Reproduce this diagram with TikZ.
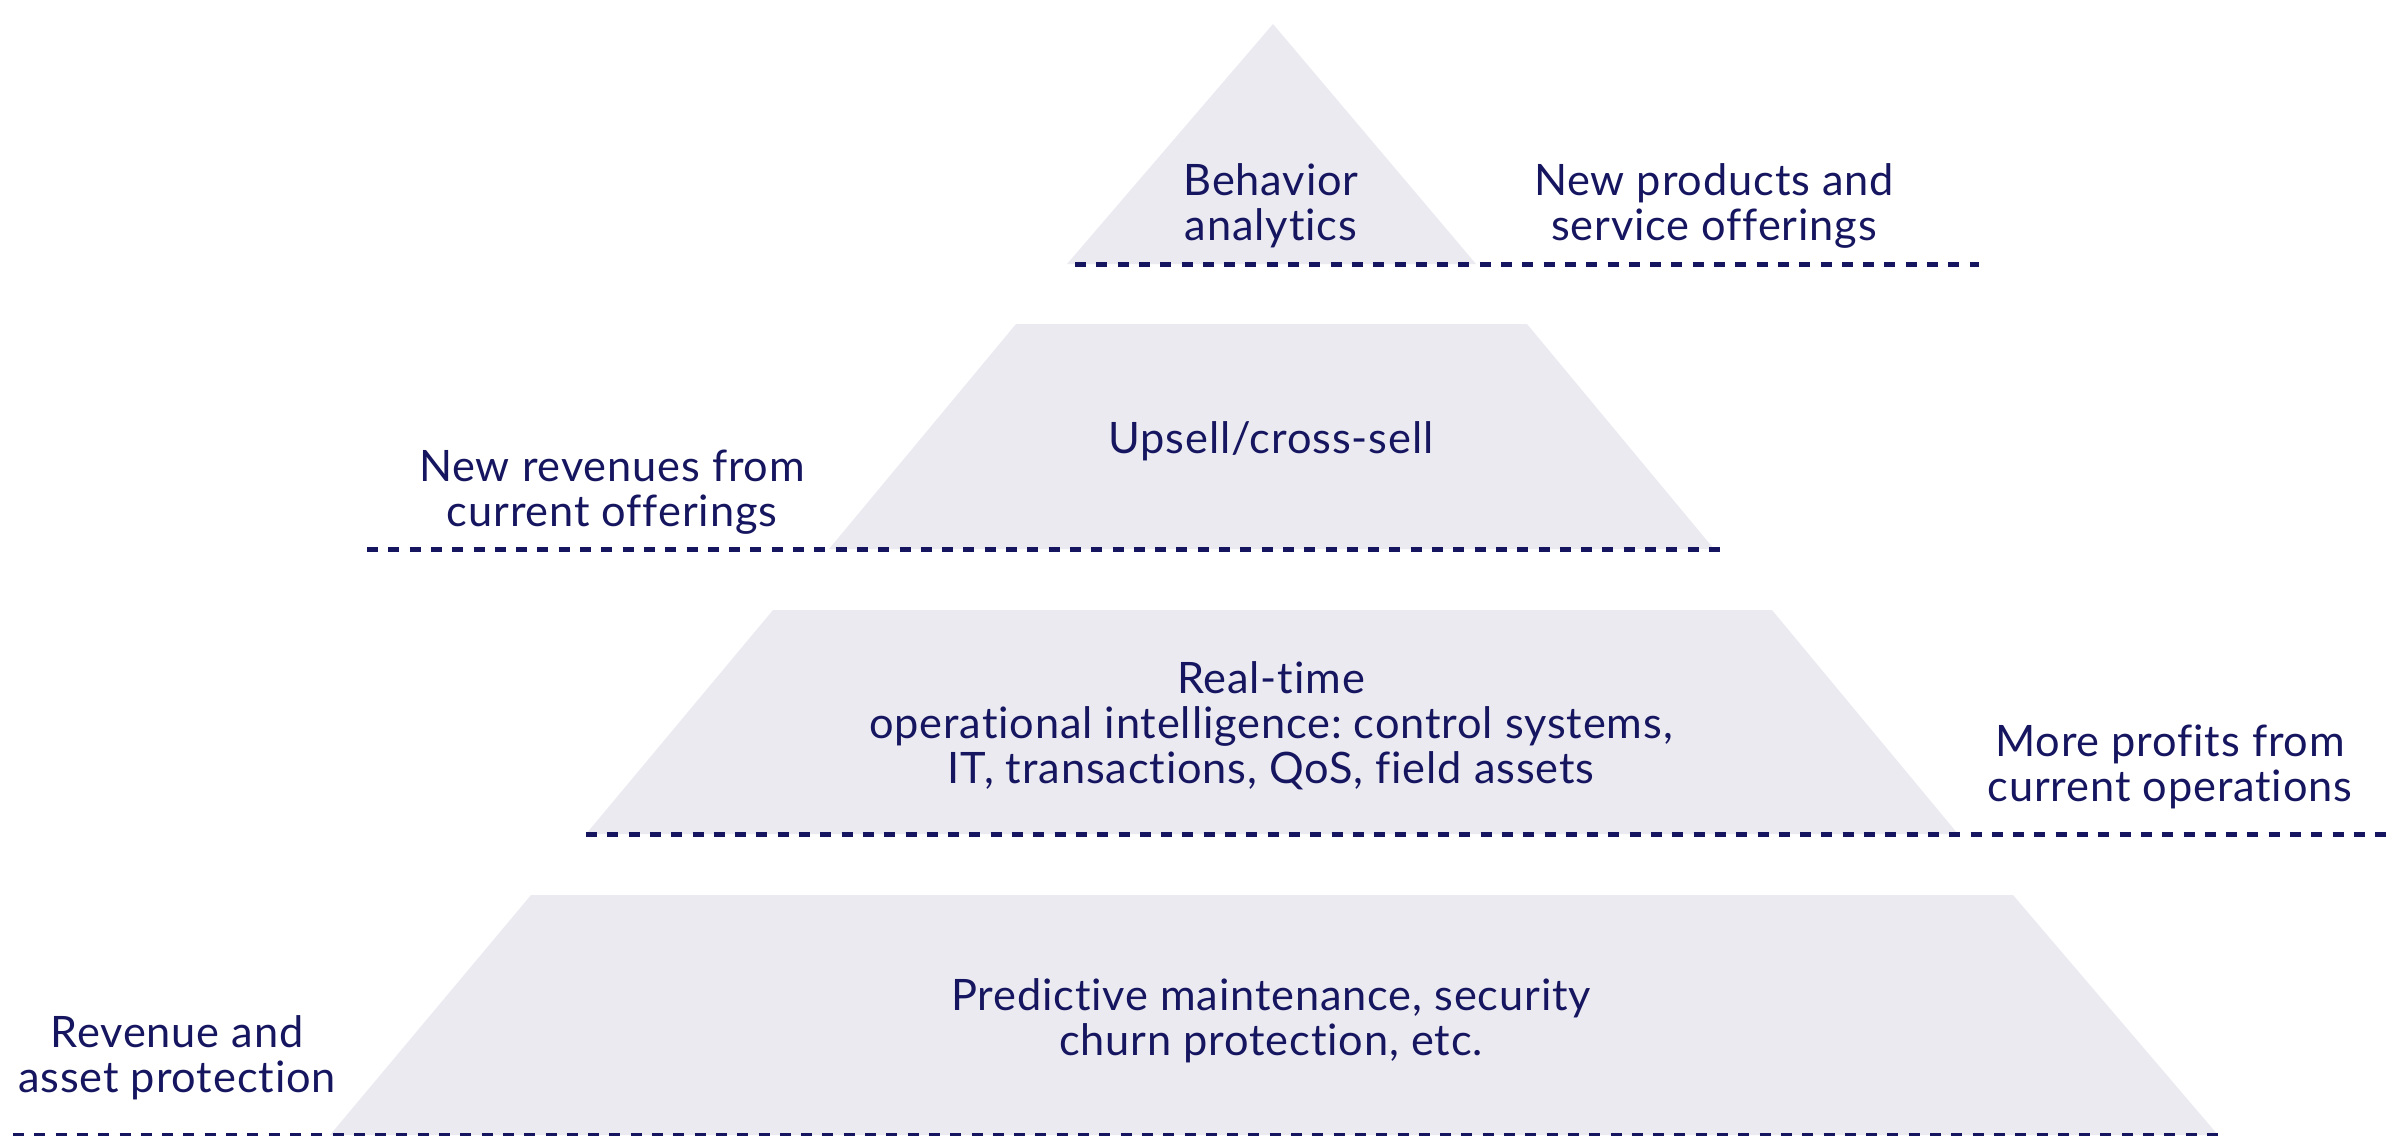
\documentclass[tikz,border=0pt]{standalone}
\usepackage{fontspec}
\setmainfont{Lato}[Ligatures=NoCommon,LetterSpace=2]
\frenchspacing
\definecolor{navy}{RGB}{22,22,96}
\definecolor{tier}{RGB}{235,234,241}
\begin{document}
\begin{tikzpicture}[x=1bp,y=-1bp,
  tierfill/.style={fill=tier,draw=none},
  dashline/.style={draw=navy,line width=5bp,dash pattern=on 11bp off 10.3bp},
  lbl/.style={text=navy,align=center,font=\fontsize{43.5}{45}\selectfont,inner sep=0pt}]
\useasboundingbox (0,0) rectangle (2399,1135);
% tiers
\fill[tierfill] (1273,24) -- (1476,264) -- (1067,264) -- cycle;
\fill[tierfill] (1016,324) -- (1527,324) -- (1714,549) -- (829,549) -- cycle;
\fill[tierfill] (773,610) -- (1772,610) -- (1958,834) -- (586,834) -- cycle;
\fill[tierfill] (531,895) -- (2013,895) -- (2218,1135) -- (330,1135) -- cycle;
% dashed lines
\coordinate (d1a) at (1075,264); \coordinate (d1b) at (1979,264);
\coordinate (d2a) at (367,549);  \coordinate (d2b) at (1724,549);
\coordinate (d3a) at (586,834);  \coordinate (d3b) at (2392,834);
\coordinate (d4a) at (13,1135);  \coordinate (d4b) at (2218,1135);
\draw[dashline] (d1a) -- (d1b);
\draw[dashline] (d2a) -- (d2b);
\draw[dashline] (d3a) -- (d3b);
\draw[dashline] (d4a) -- (d4b);
% labels
\node[lbl] (t1) at (1271,206) {Behavior\\analytics};
\node[lbl] (r1) at (1714,206) {New products and\\service offerings};
\node[lbl] (t2) at (1271,441) {Upsell/cross-sell};
\node[lbl] (l2) at (612,492) {New revenues from\\current offerings};
\node[lbl] (t3) at (1271,726) {Real-time\\operational intelligence: control systems,\\IT, transactions, QoS, field assets};
\node[lbl] (r3) at (2170,767) {More profits from\\current operations};
\node[lbl] (t4) at (1271,1021) {Predictive maintenance, security\\churn protection, etc.};
\node[lbl] (l4) at (177,1058) {Revenue and\\asset protection};
\end{tikzpicture}
\end{document}
